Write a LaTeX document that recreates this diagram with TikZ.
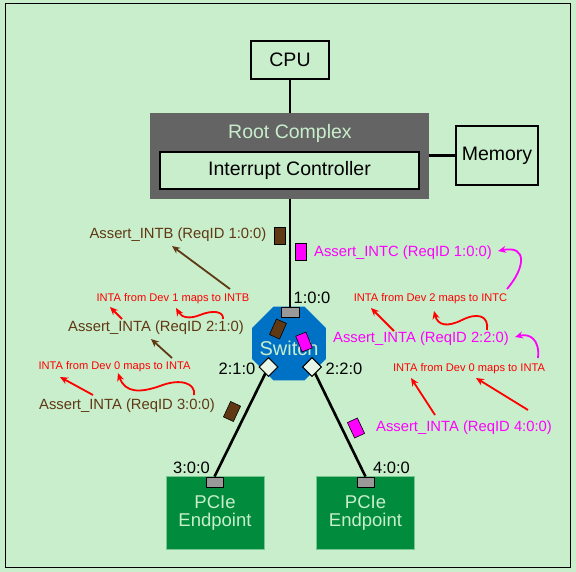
\documentclass[tikz,border=0pt]{standalone}
\usepackage{fontspec}
\setmainfont{Liberation Sans}
\usetikzlibrary{shapes.geometric,arrows.meta}
\definecolor{bg}{RGB}{200,238,204}
\definecolor{rcgray}{RGB}{100,100,100}
\definecolor{swblue}{RGB}{0,114,198}
\definecolor{epgreen}{RGB}{0,140,60}
\definecolor{brn}{RGB}{96,56,19}
\definecolor{mag}{RGB}{255,0,255}
\definecolor{portgray}{RGB}{153,153,153}
\definecolor{dfill}{RGB}{232,246,232}
\begin{document}
\begin{tikzpicture}[x=1pt,y=-1pt,
  box/.style={draw=black, line width=2pt, fill=bg, inner sep=0pt, font=\fontsize{19.5}{22}\selectfont},
  packet/.style={draw=black, line width=0.6pt, minimum width=11pt, minimum height=17pt, inner sep=0pt},
  port/.style={draw=black, line width=0.8pt, fill=portgray, minimum width=18pt, minimum height=10pt, inner sep=0pt},
  dport/.style={draw=black, line width=0.8pt, fill=dfill, minimum size=13pt, inner sep=0pt, rotate=45},
  msg/.style={font=\fontsize{14.8}{16}\selectfont, inner sep=0pt},
  note/.style={font=\fontsize{11.1}{13}\selectfont, text=red, inner sep=0pt},
  lbl/.style={font=\fontsize{16.5}{18}\selectfont, inner sep=0pt},
  wire/.style={line width=2.6pt},
  arr/.style={-{Stealth[length=8pt,width=7pt]}, line width=1.8pt},
  ep/.style={draw=bg!60!epgreen, line width=0.6pt, fill=epgreen, text=bg, minimum width=98pt, minimum height=73pt, inner sep=0pt, align=center, font=\fontsize{18.5}{18}\selectfont}
]
\useasboundingbox (0,0) rectangle (576,572);
\fill[bg] (0,0) rectangle (576,572);
\draw[line width=1.5pt] (5.5,3.5) rectangle (570.5,567.5);

% top boxes
\node[box, minimum width=78pt, minimum height=38pt] (cpu) at (290,60) {CPU};
\node[fill=rcgray, minimum width=279pt, minimum height=86pt, inner sep=0pt] (rc) at (289.5,156) {};
\node[text=bg, font=\fontsize{19.5}{22}\selectfont, inner sep=0pt, anchor=base] (rctext) at (290,138.5) {Root Complex};
\node[box, minimum width=259pt, minimum height=37pt] (ic) at (289.5,170.5) {Interrupt Controller};
\node[box, minimum width=82pt, minimum height=59pt] (mem) at (497,155.5) {Memory};
\draw[wire] (cpu.south) -- (cpu.south |- rc.north);
\draw[wire] (rc.east |- mem.west) -- (mem.west);

% switch
\node[regular polygon, regular polygon sides=8, minimum size=80pt, fill=swblue, inner sep=0pt] (sw) at (289,343.5) {};
\node[text=bg, font=\fontsize{20}{22}\selectfont, inner sep=0pt] (swtext) at (289,348) {Switch};
\node[port] (p1) at (290,312) {};
\node[dport] (dl) at (268.5,367) {};
\node[dport] (dr) at (312,367) {};
\draw[wire] (p1.north |- rc.south) -- (p1.north);

% endpoints
\node[ep] (ep3) at (215,512.5) {PCIe\\Endpoint};
\node[ep] (ep4) at (365.5,512.5) {PCIe\\Endpoint};
\node[port, minimum width=17pt] (p3) at (214.5,482) {};
\node[port, minimum width=17pt] (p4) at (365.5,482) {};
\draw[wire] (dl) -- (p3.north);
\draw[wire] (dr) -- (p4.north);
\node[dport] at (dl) {};
\node[dport] at (dr) {};

% port labels
\node[lbl] (l100) at (312,298) {1:0:0};
\node[lbl] (l210) at (237,369) {2:1:0};
\node[lbl] (l220) at (344,369) {2:2:0};
\node[lbl] (l300) at (191.5,468) {3:0:0};
\node[lbl] (l400) at (391.5,468) {4:0:0};

% packets
\node[packet, fill=brn] (k1) at (279.5,236) {};
\node[packet, fill=mag] (k2) at (301,251.5) {};
\node[packet, fill=brn, rotate=-24] (k3) at (278,329) {};
\node[packet, fill=mag, rotate=22] (k4) at (304,342) {};
\node[packet, fill=brn, rotate=-25] (k5) at (232,411.5) {};
\node[packet, fill=mag, rotate=25] (k6) at (356,428) {};

% messages left
\node[msg, text=brn] (tB) at (178,235) {Assert\_INTB (ReqID 1:0:0)};
\node[note] (rB) at (173,299) {INTA from Dev 1 maps to INTB};
\node[msg, text=brn] (t21) at (156,328) {Assert\_INTA (ReqID 2:1:0)};
\node[note] (r0l) at (114.5,367) {INTA from Dev 0 maps to INTA};
\node[msg, text=brn] (t30) at (127,406) {Assert\_INTA (ReqID 3:0:0)};

% messages right
\node[msg, text=mag] (tC) at (403,253) {Assert\_INTC (ReqID 1:0:0)};
\node[note] (rC) at (430.5,299) {INTA from Dev 2 maps to INTC};
\node[msg, text=mag] (t22) at (421,339) {Assert\_INTA (ReqID 2:2:0)};
\node[note] (r0r) at (469,369) {INTA from Dev 0 maps to INTA};
\node[msg, text=mag] (t40) at (464,428) {Assert\_INTA (ReqID 4:0:0)};

% arrow end points
\coordinate (a1s) at (230,289); \coordinate (a1e) at (172,246);
\coordinate (a2s) at (122,319); \coordinate (a2e) at (110,307);
\coordinate (a3s) at (223,319); \coordinate (a3e) at (176,308);
\coordinate (a4s) at (172,358); \coordinate (a4e) at (151,339);
\coordinate (a5s) at (93,395);  \coordinate (a5e) at (60,377);
\coordinate (a6s) at (194,395); \coordinate (a6e) at (118,373);
\coordinate (b1s) at (507,289); \coordinate (b1e) at (498,251);
\coordinate (b2s) at (394,331); \coordinate (b2e) at (371,308);
\coordinate (b3s) at (487,330); \coordinate (b3e) at (434,311);
\coordinate (b4s) at (538,358); \coordinate (b4e) at (515,337);
\coordinate (b5s) at (435,415); \coordinate (b5e) at (411,378);
\coordinate (b6s) at (528,410); \coordinate (b6e) at (476,378);

\draw[arr, brn] (a1s) -- (a1e);
\draw[arr, red] (a2s) -- (a2e);
\draw[arr, red] (a3s) .. controls (224,311) and (212,310) .. (200,315) .. controls (190,319) and (182,318) .. (a3e);
\draw[arr, brn] (a4s) -- (a4e);
\draw[arr, red] (a5s) -- (a5e);
\draw[arr, red] (a6s) .. controls (196,383) and (180,378) .. (160,386) .. controls (140,393) and (125,393) .. (a6e);

\draw[arr, mag] (b1s) .. controls (525,268) and (528,245) .. (b1e);
\draw[arr, red] (b2s) -- (b2e);
\draw[arr, red] (b3s) .. controls (489,316) and (478,312) .. (462,320) .. controls (448,327) and (438,326) .. (b3e);
\draw[arr, mag] (b4s) .. controls (540,340) and (530,333) .. (b4e);
\draw[arr, red] (b5s) -- (b5e);
\draw[arr, red] (b6s) -- (b6e);
\end{tikzpicture}
\end{document}
